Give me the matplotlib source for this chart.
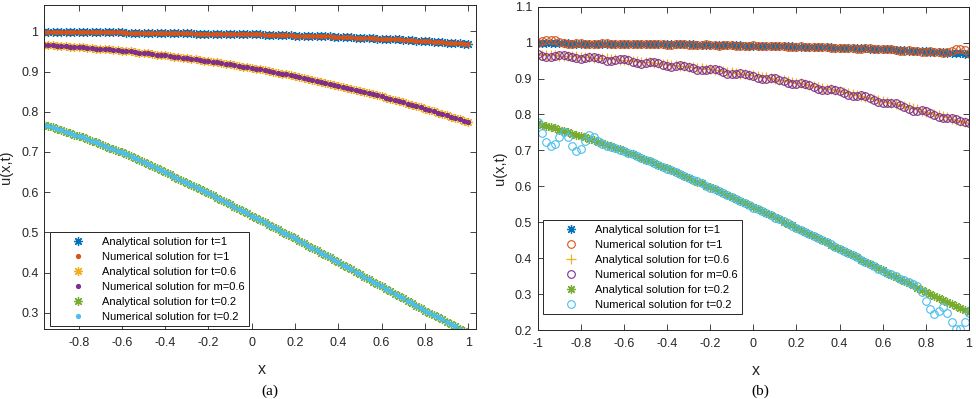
import numpy as np
import matplotlib
matplotlib.use("Agg")
import matplotlib.pyplot as plt
from matplotlib.ticker import FuncFormatter

plt.rcParams['font.family'] = ['Liberation Sans', 'DejaVu Sans']
plt.rcParams['axes.unicode_minus'] = False

# grid of x points, step 0.02
x = np.round(np.linspace(-1, 1, 101), 2)

# analytical solutions
an_t1 = [0.998, 0.998, 0.998, 0.998, 0.998, 0.998, 0.998, 0.998, 0.997, 0.997,
         0.997, 0.997, 0.997, 0.997, 0.997, 0.997, 0.997, 0.997, 0.997, 0.997,
         0.997, 0.996, 0.996, 0.996, 0.996, 0.996, 0.996, 0.996, 0.996, 0.995,
         0.995, 0.995, 0.995, 0.995, 0.995, 0.995, 0.995, 0.994, 0.994, 0.994,
         0.994, 0.994, 0.994, 0.993, 0.993, 0.993, 0.993, 0.993, 0.992, 0.992,
         0.992, 0.992, 0.992, 0.991, 0.991, 0.991, 0.991, 0.990, 0.990, 0.990,
         0.989, 0.989, 0.989, 0.989, 0.988, 0.988, 0.988, 0.987, 0.987, 0.986,
         0.986, 0.986, 0.985, 0.985, 0.984, 0.984, 0.984, 0.983, 0.983, 0.982,
         0.982, 0.981, 0.981, 0.980, 0.980, 0.979, 0.978, 0.978, 0.977, 0.976,
         0.976, 0.975, 0.974, 0.973, 0.973, 0.972, 0.971, 0.970, 0.970, 0.969,
         0.968]
an_t06 = [0.967, 0.966, 0.966, 0.965, 0.965, 0.964, 0.963, 0.963, 0.962, 0.962,
          0.961, 0.960, 0.959, 0.958, 0.957, 0.957, 0.956, 0.955, 0.954, 0.953,
          0.952, 0.951, 0.950, 0.948, 0.947, 0.946, 0.945, 0.944, 0.942, 0.941,
          0.940, 0.939, 0.937, 0.936, 0.934, 0.933, 0.932, 0.930, 0.929, 0.927,
          0.926, 0.924, 0.923, 0.921, 0.919, 0.918, 0.916, 0.914, 0.912, 0.911,
          0.909, 0.907, 0.905, 0.903, 0.901, 0.899, 0.897, 0.895, 0.893, 0.891,
          0.889, 0.887, 0.884, 0.882, 0.879, 0.877, 0.875, 0.872, 0.870, 0.867,
          0.865, 0.862, 0.860, 0.857, 0.854, 0.852, 0.849, 0.846, 0.843, 0.841,
          0.838, 0.835, 0.832, 0.829, 0.826, 0.823, 0.820, 0.817, 0.814, 0.811,
          0.808, 0.805, 0.801, 0.798, 0.795, 0.792, 0.788, 0.785, 0.782, 0.778,
          0.775]
an_t02 = [0.775, 0.771, 0.768, 0.764, 0.761, 0.757, 0.754, 0.750, 0.747, 0.743,
          0.740, 0.736, 0.732, 0.728, 0.724, 0.720, 0.715, 0.711, 0.707, 0.703,
          0.699, 0.694, 0.689, 0.684, 0.679, 0.674, 0.670, 0.665, 0.660, 0.655,
          0.650, 0.645, 0.639, 0.634, 0.629, 0.623, 0.618, 0.613, 0.608, 0.602,
          0.597, 0.592, 0.586, 0.581, 0.575, 0.570, 0.564, 0.559, 0.553, 0.548,
          0.542, 0.536, 0.531, 0.525, 0.519, 0.514, 0.508, 0.502, 0.496, 0.491,
          0.485, 0.479, 0.473, 0.467, 0.461, 0.456, 0.450, 0.444, 0.438, 0.432,
          0.426, 0.420, 0.414, 0.408, 0.402, 0.396, 0.390, 0.384, 0.378, 0.372,
          0.366, 0.360, 0.354, 0.348, 0.342, 0.336, 0.330, 0.324, 0.318, 0.312,
          0.306, 0.300, 0.295, 0.289, 0.284, 0.278, 0.272, 0.267, 0.261, 0.256,
          0.250]

# panel (a): numerical solution sits on top of the analytical one
num_a_t1 = an_t1
num_a_t06 = an_t06
num_a_t02 = an_t02

# panel (b): numerical solutions with oscillations
num_b_t1 = [0.999, 1.004, 1.007, 1.008, 1.006, 1.002, 0.999, 0.997, 0.997, 0.998,
            0.998, 0.997, 0.996, 0.996, 0.997, 0.998, 0.998, 0.997, 0.996, 0.996,
            0.997, 0.997, 0.997, 0.996, 0.995, 0.995, 0.996, 0.997, 0.996, 0.995,
            0.994, 0.994, 0.995, 0.996, 0.995, 0.994, 0.993, 0.993, 0.994, 0.995,
            0.994, 0.993, 0.992, 0.993, 0.994, 0.993, 0.992, 0.991, 0.991, 0.992,
            0.993, 0.992, 0.991, 0.990, 0.990, 0.991, 0.992, 0.991, 0.989, 0.988,
            0.989, 0.990, 0.989, 0.988, 0.987, 0.987, 0.988, 0.988, 0.986, 0.985,
            0.985, 0.986, 0.986, 0.984, 0.983, 0.983, 0.984, 0.984, 0.982, 0.981,
            0.981, 0.982, 0.981, 0.979, 0.978, 0.978, 0.979, 0.978, 0.976, 0.975,
            0.975, 0.976, 0.975, 0.973, 0.972, 0.974, 0.978, 0.981, 0.982, 0.979,
            0.971]
num_b_t06 = [0.967, 0.963, 0.960, 0.959, 0.962, 0.965, 0.965, 0.963, 0.959, 0.956,
             0.955, 0.957, 0.960, 0.960, 0.957, 0.954, 0.950, 0.949, 0.951, 0.954,
             0.954, 0.951, 0.947, 0.942, 0.941, 0.943, 0.946, 0.946, 0.942, 0.938,
             0.934, 0.933, 0.934, 0.937, 0.936, 0.933, 0.929, 0.924, 0.923, 0.924,
             0.927, 0.926, 0.923, 0.918, 0.913, 0.912, 0.913, 0.915, 0.914, 0.911,
             0.906, 0.901, 0.899, 0.900, 0.902, 0.901, 0.897, 0.892, 0.887, 0.885,
             0.886, 0.888, 0.886, 0.882, 0.876, 0.871, 0.869, 0.869, 0.871, 0.869,
             0.865, 0.859, 0.854, 0.851, 0.851, 0.853, 0.851, 0.846, 0.840, 0.835,
             0.832, 0.832, 0.833, 0.831, 0.826, 0.820, 0.814, 0.811, 0.811, 0.812,
             0.810, 0.805, 0.798, 0.792, 0.789, 0.789, 0.789, 0.787, 0.782, 0.779,
             0.775]
num_b_t02 = [0.778, 0.748, 0.724, 0.713, 0.718, 0.737, 0.752, 0.736, 0.711, 0.699,
             0.705, 0.727, 0.743, 0.738, 0.727, 0.719, 0.713, 0.710, 0.707, 0.701,
             0.697, 0.694, 0.690, 0.685, 0.678, 0.673, 0.670, 0.666, 0.660, 0.654,
             0.649, 0.645, 0.640, 0.635, 0.628, 0.622, 0.618, 0.614, 0.608, 0.601,
             0.596, 0.592, 0.587, 0.582, 0.575, 0.569, 0.564, 0.560, 0.554, 0.547,
             0.541, 0.536, 0.532, 0.526, 0.519, 0.513, 0.508, 0.503, 0.497, 0.490,
             0.484, 0.479, 0.474, 0.468, 0.461, 0.455, 0.450, 0.445, 0.439, 0.431,
             0.425, 0.420, 0.415, 0.409, 0.402, 0.395, 0.390, 0.385, 0.379, 0.371,
             0.365, 0.360, 0.355, 0.349, 0.342, 0.338, 0.333, 0.327, 0.322, 0.305,
             0.282, 0.258, 0.245, 0.252, 0.265, 0.248, 0.222, 0.203, 0.203, 0.222,
             0.248]

labels_a = ['Analytical solution for t=1', 'Numerical solution for t=1',
            'Analytical solution for t=0.6', 'Numerical solution for m=0.6',
            'Analytical solution for t=0.2', 'Numerical solution for t=0.2']
labels_b = labels_a

xticks_a = [-0.8, -0.6, -0.4, -0.2, 0, 0.2, 0.4, 0.6, 0.8, 1]
yticks_a = [0.3, 0.4, 0.5, 0.6, 0.7, 0.8, 0.9, 1]
xticks_b = [-1, -0.8, -0.6, -0.4, -0.2, 0, 0.2, 0.4, 0.6, 0.8, 1]
yticks_b = [0.2, 0.3, 0.4, 0.5, 0.6, 0.7, 0.8, 0.9, 1, 1.1]

c_blue, c_orange, c_yellow = '#0072BD', '#D95319', '#EDB120'
c_purple, c_green, c_cyan = '#7E2F8E', '#77AC30', '#4DBEEE'
ast = (8, 2, 0)
axcol = '#262626'

fig = plt.figure(figsize=(9.76, 3.99), dpi=100)
ax1 = fig.add_axes([0.0451, 0.1754, 0.4426, 0.8128])
ax2 = fig.add_axes([0.5509, 0.1729, 0.4419, 0.8103])

ast_kw = dict(ls='none', marker=ast, ms=6.5, mew=0.9)
dot_kw = dict(ls='none', marker='.', ms=5.5)
circ_kw = dict(ls='none', marker='o', ms=5.5, mew=0.8, mfc='none')

# panel (a)
ax1.plot(x, an_t1, color=c_blue, label=labels_a[0], **ast_kw)
ax1.plot(x, num_a_t1, color=c_orange, label=labels_a[1], **dot_kw)
ax1.plot(x, an_t06, color=c_yellow, label=labels_a[2], **ast_kw)
ax1.plot(x, num_a_t06, color=c_purple, label=labels_a[3], **dot_kw)
ax1.plot(x, an_t02, color=c_green, label=labels_a[4], **ast_kw)
ax1.plot(x, num_a_t02, color=c_cyan, label=labels_a[5], **dot_kw)
ax1.set_xlim(-0.96, 1.036)
ax1.set_ylim(0.26, 1.066)
ax1.set_xticks(xticks_a)
ax1.set_yticks(yticks_a)

# panel (b)
ax2.plot(x, an_t1, color=c_blue, label=labels_b[0], **ast_kw)
ax2.plot(x, num_b_t1, color=c_orange, label=labels_b[1], **circ_kw)
ax2.plot(x, an_t06, ls='none', marker='+', ms=6.5, mew=0.9, color=c_yellow, label=labels_b[2])
ax2.plot(x, num_b_t06, color=c_purple, label=labels_b[3], **circ_kw)
ax2.plot(x, an_t02, color=c_green, label=labels_b[4], **ast_kw)
ax2.plot(x, num_b_t02, color=c_cyan, label=labels_b[5], **circ_kw)
ax2.set_xlim(-1, 1)
ax2.set_ylim(0.2, 1.1)
ax2.set_xticks(xticks_b)
ax2.set_yticks(yticks_b)

fmt = FuncFormatter(lambda v, p: f"{v:g}")
for ax, anchor in [(ax1, (0.0139, 0.0093)), (ax2, (0.0116, 0.0495))]:
    ax.xaxis.set_major_formatter(fmt)
    ax.yaxis.set_major_formatter(fmt)
    ax.tick_params(direction='in', top=True, right=True, length=4, width=0.6,
                   colors=axcol, labelsize=9)
    ax.tick_params(axis='x', pad=6)
    ax.tick_params(axis='y', pad=4)
    for s in ax.spines.values():
        s.set_color(axcol)
        s.set_linewidth(0.7)
    ax.set_xlabel('x', fontsize=11.5, color=axcol)
    ax.set_ylabel('u(x,t)', fontsize=10.5, color=axcol)
    ax.yaxis.set_label_coords(-0.072, 0.5)
    ax.xaxis.set_label_coords(0.505, -0.103)
    leg = ax.legend(loc='lower left', bbox_to_anchor=anchor, borderaxespad=0,
                    fontsize=8, frameon=True, fancybox=False, handlelength=4.3,
                    handletextpad=0.0, labelspacing=0.45, borderpad=0.4)
    leg.get_frame().set_edgecolor(axcol)
    leg.get_frame().set_linewidth(0.7)
    leg.get_frame().set_alpha(1)

fig.text(0.2766, 0.02, '(a)', family='Liberation Serif', fontsize=11, ha='center', va='center')
fig.text(0.7787, 0.02, '(b)', family='Liberation Serif', fontsize=11, ha='center', va='center')

fig.savefig('out.png', dpi=100)
